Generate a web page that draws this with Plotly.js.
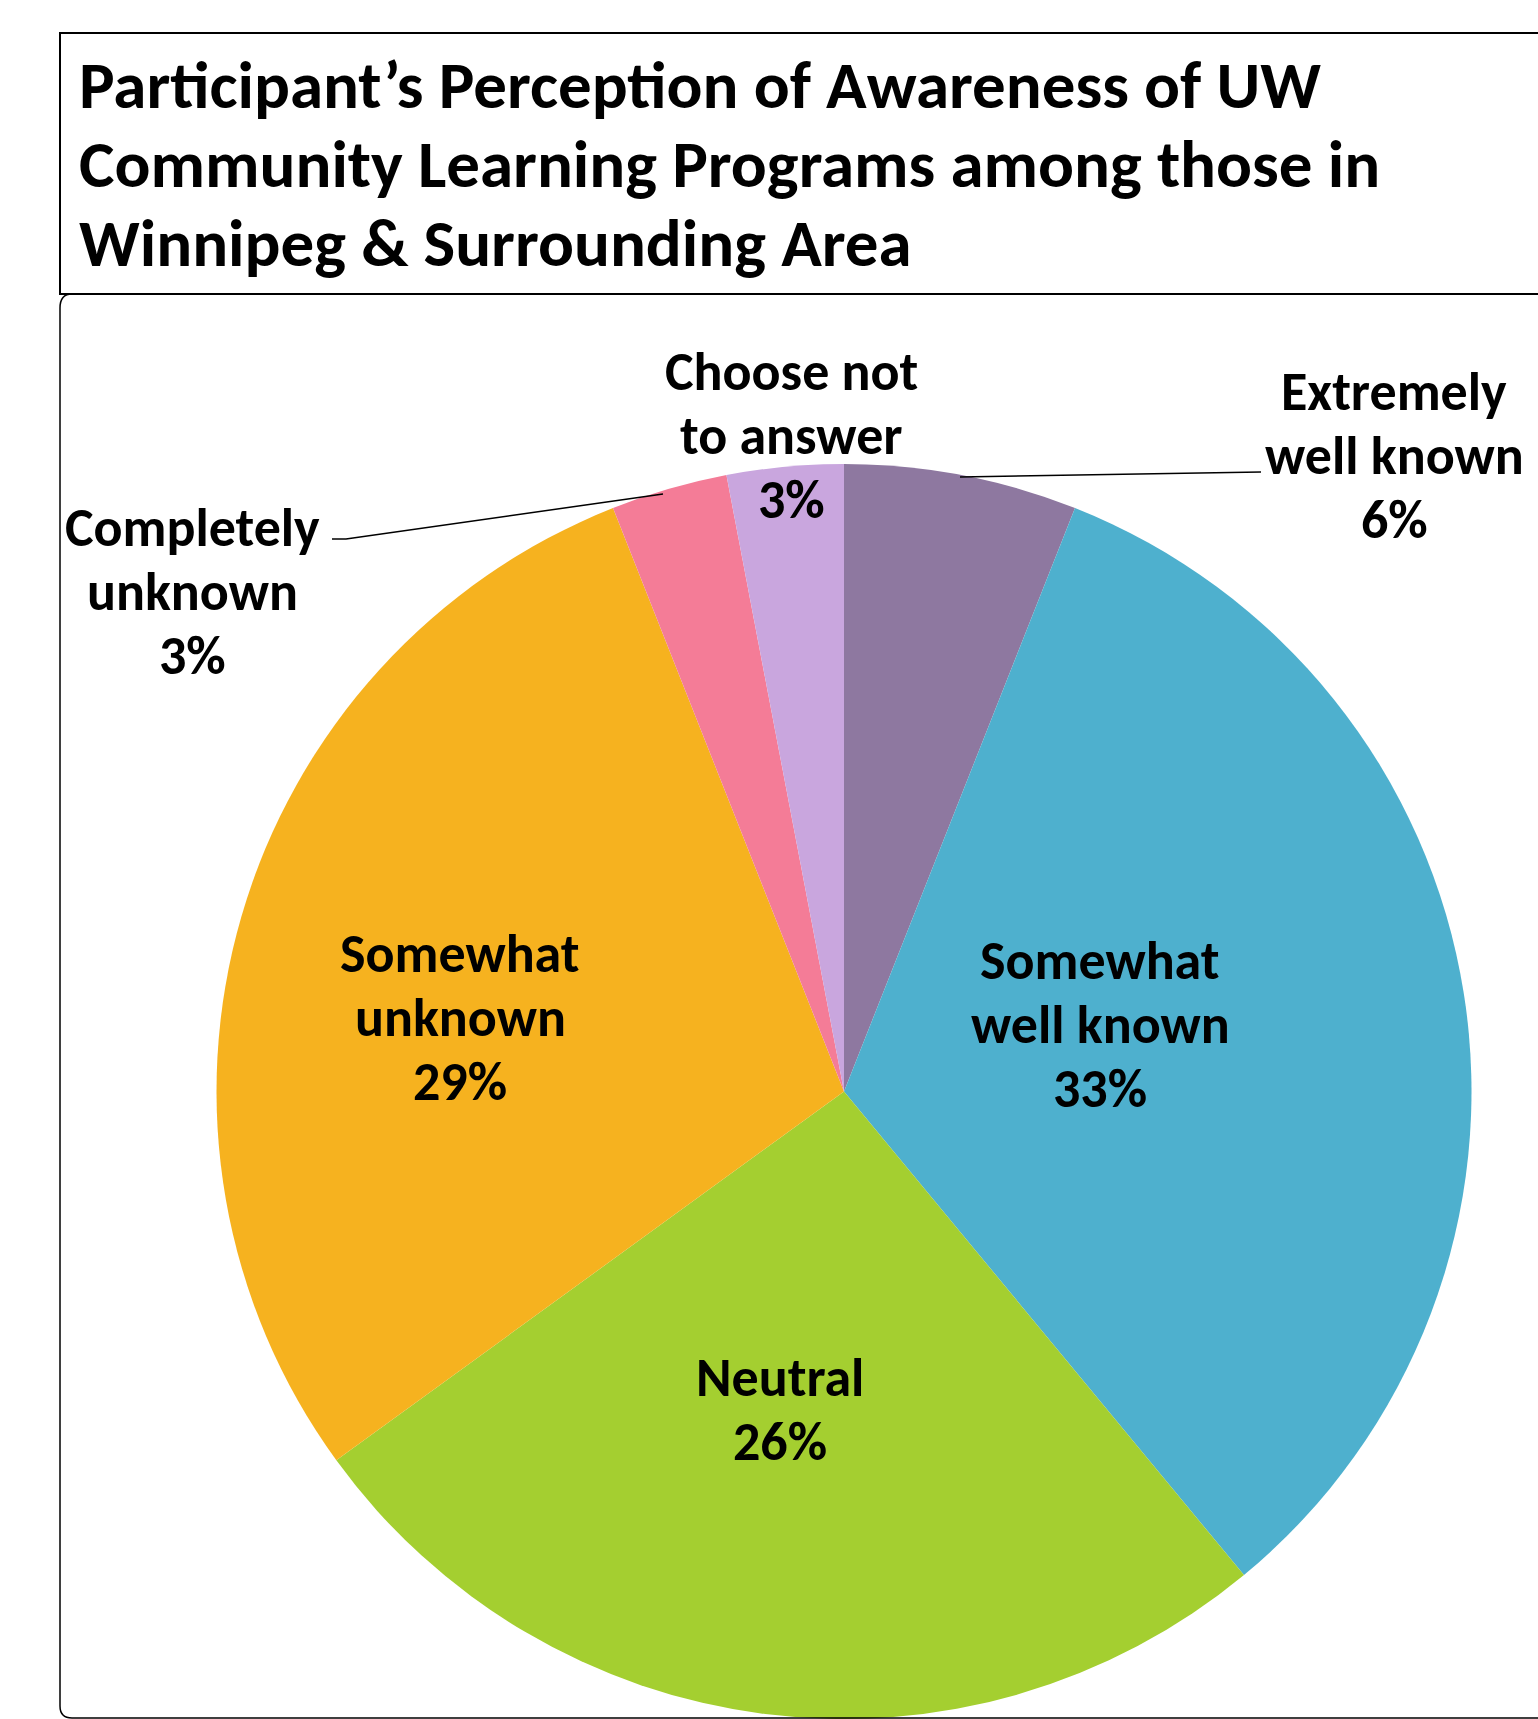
<!DOCTYPE html>
<html>
<head>
<meta charset="utf-8">
<script src="https://cdn.plot.ly/plotly-3.0.1.min.js"></script>
<style>html,body{margin:0;padding:0;background:#fff;}#chart{width:1538px;height:1719px;}</style>
</head>
<body>
<div id="chart"></div>
<script>
// ---- data ----
const categories = ['Extremely well known', 'Somewhat well known', 'Neutral', 'Somewhat unknown', 'Completely unknown', 'Choose not to answer'];
const values = [6, 33, 26, 29, 3, 3];
const labelLines = [['Extremely', 'well known'], ['Somewhat', 'well known'], ['Neutral'], ['Somewhat', 'unknown'], ['Completely', 'unknown'], ['Choose not', 'to answer']];
const colors = ['#8E78A0', '#4EB0CE', '#A4CF30', '#F6B21F', '#F47C97', '#C9A6DE'];
const titleLines = ['Participant’s Perception of Awareness of UW', 'Community Learning Programs among those in', 'Winnipeg &amp; Surrounding Area'];

// ---- layout helpers (pixel -> paper) ----
const W = 1538, H = 1719;
const px = x => x / W;
const py = y => 1 - y / H;
const FONT = 'Carlito, Lato, sans-serif';

const total = values.reduce((a, b) => a + b, 0);
const pct = values.map(v => Math.round(v / total * 100) + '%');

// label anchor positions (pixels, centre of the label block)
const labelPos = [[1394, 456], [1100, 1025], [780, 1410], [460, 1018], [192, 592], [791, 436]];
const LABEL_SIZE = 54, LABEL_STEP = 64;

const annotations = [];
categories.forEach((c, i) => {
  const lines = labelLines[i].concat([pct[i]]);
  const n = lines.length;
  lines.forEach((t, j) => {
    annotations.push({
      xref: 'paper', yref: 'paper',
      x: px(labelPos[i][0]), y: py(labelPos[i][1] + (j - (n - 1) / 2) * LABEL_STEP),
      xanchor: 'center', yanchor: 'middle',
      text: '<b>' + t + '</b>',
      showarrow: false, align: 'center',
      font: {family: FONT, size: LABEL_SIZE, color: '#000'}
    });
  });
});

// title, one annotation per line
const TITLE_SIZE = 67;
const titleCentres = [85, 164, 243];
titleLines.forEach((t, j) => {
  annotations.push({
    xref: 'paper', yref: 'paper',
    x: px(77), y: py(titleCentres[j]),
    xanchor: 'left', yanchor: 'middle',
    text: '<b>' + t + '</b>',
    showarrow: false, align: 'left',
    font: {family: FONT, size: TITLE_SIZE, color: '#000'}
  });
});

const shapes = [
  // title box
  {type: 'rect', xref: 'paper', yref: 'paper', x0: px(60), x1: px(1560), y0: py(33), y1: py(294),
   line: {color: '#000', width: 2}, fillcolor: 'rgba(0,0,0,0)'},
  // chart area box with rounded corners
  {type: 'path', xref: 'paper', yref: 'paper',
   path: 'M ' + px(1560) + ',' + py(294) + ' L ' + px(72) + ',' + py(294) +
         ' Q ' + px(60) + ',' + py(294) + ' ' + px(60) + ',' + py(308) +
         ' L ' + px(60) + ',' + py(1706) +
         ' Q ' + px(60) + ',' + py(1718) + ' ' + px(72) + ',' + py(1718) +
         ' L ' + px(1560) + ',' + py(1718),
   line: {color: '#000', width: 1.5}},
  // leader lines
  {type: 'path', xref: 'paper', yref: 'paper',
   path: 'M ' + px(332) + ',' + py(539) + ' L ' + px(346) + ',' + py(539) + ' L ' + px(663) + ',' + py(494),
   line: {color: '#000', width: 1.5}},
  {type: 'line', xref: 'paper', yref: 'paper', x0: px(960), y0: py(477), x1: px(1261), y1: py(472),
   line: {color: '#000', width: 1.5}}
];

const trace = {
  type: 'pie',
  labels: categories,
  values: values,
  sort: false,
  direction: 'clockwise',
  rotation: 0,
  textinfo: 'none',
  hoverinfo: 'label+percent',
  marker: {colors: colors, line: {width: 0}},
  domain: {x: [px(216), px(1472)], y: [0, py(464)]},
  showlegend: false
};

const layout = {
  width: W, height: H,
  margin: {l: 0, r: 0, t: 0, b: 0},
  paper_bgcolor: '#fff',
  showlegend: false,
  shapes: shapes,
  annotations: annotations
};

Plotly.newPlot('chart', [trace], layout, {staticPlot: true});
</script>
</body>
</html>
